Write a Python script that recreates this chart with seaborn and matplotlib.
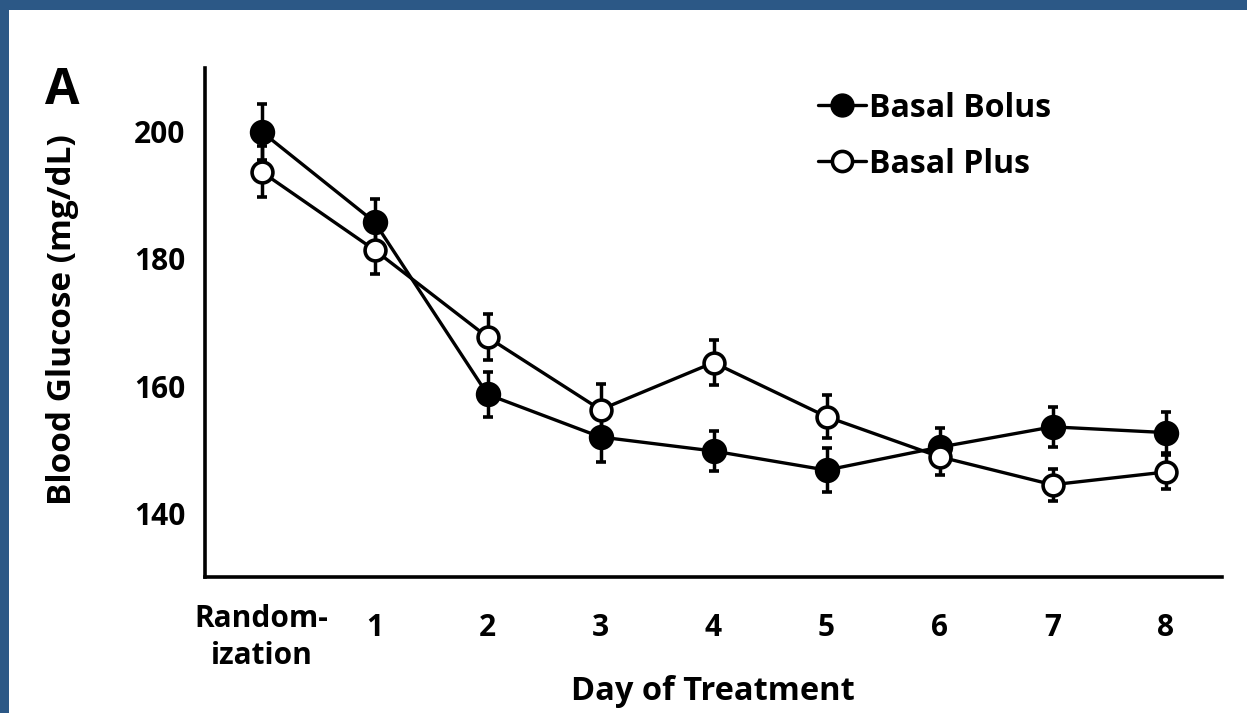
import matplotlib
matplotlib.use("Agg")
import matplotlib.pyplot as plt
import matplotlib.transforms as mtransforms
import seaborn as sns
import pandas as pd
import numpy as np
from matplotlib.lines import Line2D
from matplotlib.patches import Rectangle

# ---- data ----
days = ["Random-\nization", "1", "2", "3", "4", "5", "6", "7", "8"]
bolus_mean = [200.0, 185.8, 158.7, 152.0, 149.8, 146.8, 150.4, 153.6, 152.7]
bolus_err = [4.4, 3.6, 3.5, 3.9, 3.1, 3.4, 3.0, 3.1, 3.2]
plus_mean = [193.7, 181.4, 167.7, 156.3, 163.7, 155.2, 148.9, 144.5, 146.5]
plus_err = [4.0, 3.8, 3.6, 4.1, 3.5, 3.4, 2.9, 2.5, 2.6]
series_names = ["Basal Bolus", "Basal Plus"]
y_ticks_major = [140, 160, 180, 200]

sns.set_theme(style="white")
FAM = ['Open Sans', 'DejaVu Sans']
plt.rcParams['font.family'] = FAM
plt.rcParams['font.weight'] = 'bold'
plt.rcParams['text.color'] = 'black'
plt.rcParams['axes.labelcolor'] = 'black'

W, H = 1247, 713
fig = plt.figure(figsize=(W / 100, H / 100), dpi=100, facecolor="#2C5886")
# white panel inside blue frame
fig.add_artist(Rectangle((9 / W, 0), 1 - 9 / W, 1 - 10 / H, transform=fig.transFigure,
                         facecolor="white", edgecolor="none", zorder=-10))

ax = fig.add_axes([205 / W, 1 - 577 / H, (1222 - 205) / W, (577 - 68) / H])
ax.set_facecolor("none")

pos = np.arange(len(days))
df = pd.DataFrame({
    "x": np.concatenate([pos, pos]),
    "y": bolus_mean + plus_mean,
    "Group": [series_names[0]] * len(days) + [series_names[1]] * len(days),
})

lw = 2.4
for mean, err in [(bolus_mean, bolus_err), (plus_mean, plus_err)]:
    ax.errorbar(pos, mean, yerr=err, fmt="none", ecolor="black", elinewidth=2.5,
                capsize=3.5, capthick=2.6, zorder=2)

sns.lineplot(data=df[df.Group == series_names[0]], x="x", y="y", ax=ax, color="black",
             linewidth=lw, marker="o", markersize=16.5, markerfacecolor="black",
             markeredgecolor="black", markeredgewidth=1.8, legend=False, zorder=3)
sns.lineplot(data=df[df.Group == series_names[1]], x="x", y="y", ax=ax, color="black",
             linewidth=lw, marker="o", markersize=15, markerfacecolor="white",
             markeredgecolor="black", markeredgewidth=2.6, legend=False, zorder=4)

ax.set_xlim(-0.5, 8.5)
ax.set_ylim(130, 210)
ax.set_xticks(list(pos) + [8.5])
ax.set_xticklabels(days + [""], fontsize=21.5, fontweight="bold", linespacing=1.3)
ax.set_yticks(np.arange(130, 211, 10))
ax.set_yticklabels([str(v) if v in y_ticks_major else "" for v in np.arange(130, 211, 10)],
                   fontsize=21.5, fontweight="bold")
ax.tick_params(axis="x", direction="out", length=7, width=2.4, pad=19, colors="black")
ax.tick_params(axis="y", direction="out", length=9, width=2.4, pad=5, colors="black")
ax.yaxis.get_major_ticks()[0].tick1line.set_visible(False)
ax.xaxis.get_major_ticks()[-1].tick1line.set_markersize(10)
# first (two-line) label sits slightly higher than the digits
first = ax.get_xticklabels()[0]
first.set_transform(first.get_transform() +
                    mtransforms.ScaledTranslation(0, 9 / 100, fig.dpi_scale_trans))

for s in ["top", "right"]:
    ax.spines[s].set_visible(False)
for s in ["left", "bottom"]:
    ax.spines[s].set_linewidth(2.6)
    ax.spines[s].set_color("black")

ax.set_xlabel("Day of Treatment", fontsize=23.5, fontweight="bold", color="black")
ax.set_ylabel("Blood Glucose (mg/dL)", fontsize=24, fontweight="bold", color="black")
ax.xaxis.set_label_coords((713 - 205) / 1017, (577 - 675) / 509)
ax.yaxis.set_label_coords((79 - 205) / 1017, (577 - 320) / 509)

handles = [
    Line2D([], [], color="black", lw=lw, marker="o", markersize=16.5, markerfacecolor="black",
           markeredgecolor="black"),
    Line2D([], [], color="black", lw=lw, marker="o", markersize=14.5, markerfacecolor="white",
           markeredgecolor="black", markeredgewidth=2.6),
]
leg = ax.legend(handles, series_names, loc="upper left", bbox_to_anchor=(584 / 1017, 1.01),
                frameon=False, handlelength=1.5, handletextpad=0.1, labelspacing=0.72,
                labelcolor="black",
                prop={"family": FAM, "weight": "bold", "size": 23})

fig.text(45 / W, 1 - 104 / H, "A", fontsize=36, fontweight="bold", color="black")

fig.savefig("out.png", dpi=100, facecolor=fig.get_facecolor())
